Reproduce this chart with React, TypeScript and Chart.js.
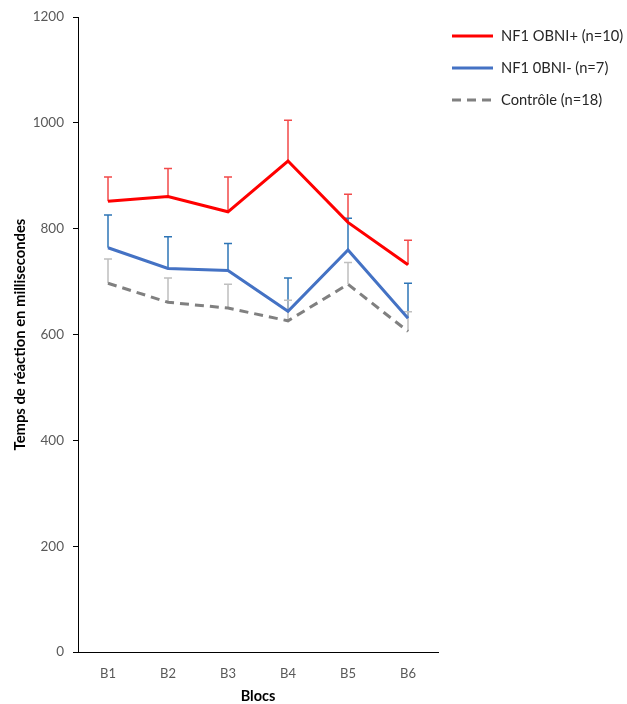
import React, { useEffect, useRef } from "react";
import { Chart, registerables } from "chart.js";

Chart.register(...registerables);

const categories = ["B1", "B2", "B3", "B4", "B5", "B6"];
const obniPlus = [852, 861, 832, 928, 812, 732];
const obniPlusErr = [46, 53, 66, 77, 53, 46];
const obniMinus = [764, 725, 721, 644, 760, 631];
const obniMinusErr = [62, 60, 51, 63, 60, 66];
const controle = [697, 661, 650, 626, 695, 606];
const controleErr = [46, 46, 45, 39, 41, 37];
const yTicks = [0, 200, 400, 600, 800, 1000, 1200];

const FONT = "Lato, 'Liberation Sans', Arial, sans-serif";

const errorBarPlugin = {
  id: "errorBars",
  beforeDatasetsDraw(chart: any) {
    const ctx = chart.ctx;
    const yScale = chart.scales.y;
    chart.data.datasets.forEach((ds: any, i: number) => {
      const meta = chart.getDatasetMeta(i);
      if (meta.hidden) return;
      ctx.save();
      ctx.strokeStyle = ds.errorColor;
      ctx.lineWidth = 1.5;
      ctx.setLineDash([]);
      meta.data.forEach((pt: any, j: number) => {
        const v = ds.data[j] + ds.errors[j];
        const yTop = yScale.getPixelForValue(v);
        ctx.beginPath();
        ctx.moveTo(pt.x, pt.y);
        ctx.lineTo(pt.x, yTop);
        ctx.moveTo(pt.x - 4, yTop);
        ctx.lineTo(pt.x + 4, yTop);
        ctx.stroke();
      });
      ctx.restore();
    });
  },
};

const legendPlugin = {
  id: "customLegend",
  afterDraw(chart: any) {
    const ctx = chart.ctx;
    const x0 = 452;
    const rows = [36, 68, 100];
    ctx.save();
    chart.data.datasets.forEach((ds: any, i: number) => {
      const y = rows[i];
      ctx.strokeStyle = ds.borderColor;
      ctx.lineWidth = 3;
      ctx.setLineDash(ds.borderDash || []);
      ctx.beginPath();
      ctx.moveTo(x0, y);
      ctx.lineTo(x0 + 41, y);
      ctx.stroke();
      ctx.setLineDash([]);
      ctx.fillStyle = "#262626";
      ctx.font = `14.7px ${FONT}`;
      ctx.textBaseline = "middle";
      ctx.textAlign = "left";
      ctx.fillText(ds.label, x0 + 49, y);
    });
    ctx.restore();
  },
};

export default function App() {
  const ref = useRef<HTMLCanvasElement | null>(null);
  useEffect(() => {
    document.body.style.margin = "0";
    if (!ref.current) return;
    const chart = new Chart(ref.current, {
      type: "line",
      data: {
        labels: categories,
        datasets: [
          {
            label: "NF1 OBNI+ (n=10)",
            data: obniPlus,
            errors: obniPlusErr,
            errorColor: "#f24a4a",
            borderColor: "#ff0000",
            backgroundColor: "#ff0000",
            borderWidth: 3,
            pointRadius: 0,
            tension: 0,
          } as any,
          {
            label: "NF1 0BNI- (n=7)",
            data: obniMinus,
            errors: obniMinusErr,
            errorColor: "#2e75b6",
            borderColor: "#4472c4",
            backgroundColor: "#4472c4",
            borderWidth: 3,
            pointRadius: 0,
            tension: 0,
          } as any,
          {
            label: "Contrôle (n=18)",
            data: controle,
            errors: controleErr,
            errorColor: "#bfbfbf",
            borderColor: "#808080",
            backgroundColor: "#808080",
            borderWidth: 3,
            borderDash: [9, 6],
            pointRadius: 0,
            tension: 0,
          } as any,
        ],
      },
      options: {
        animation: false,
        responsive: false,
        layout: { padding: { left: 0, top: 17, right: 189, bottom: 0 } },
        plugins: {
          legend: { display: false },
          tooltip: { enabled: false },
        },
        scales: {
          x: {
            offset: true,
            grid: { display: false, drawTicks: false },
            border: { display: true, color: "#000", width: 1 },
            ticks: {
              color: "#595959",
              font: { family: FONT, size: 13 },
              padding: 14,
            },
            title: {
              display: true,
              text: "Blocs",
              color: "#000",
              font: { family: FONT, size: 14.5, weight: "bold", lineHeight: 1 },
              padding: { top: 0, bottom: 0 },
            },
            afterFit(scale: any) {
              scale.height = 52;
            },
          },
          y: {
            min: 0,
            max: 1200,
            afterBuildTicks(scale: any) {
              scale.ticks = yTicks.map((v) => ({ value: v }));
            },
            grid: {
              drawOnChartArea: false,
              drawTicks: true,
              tickLength: 5,
              color: "#000",
            },
            border: { display: true, color: "#000", width: 1 },
            ticks: {
              color: "#595959",
              font: { family: FONT, size: 13.5 },
              padding: 9,
              callback: (v: any) => String(v),
            },
            title: {
              display: true,
              text: "Temps de réaction en millisecondes",
              color: "#000",
              font: { family: FONT, size: 14.8, weight: "bold", lineHeight: 1.2 },
              padding: { top: 11, bottom: 0 },
            },
            afterFit(scale: any) {
              scale.width = 78;
            },
          },
        },
      } as any,
      plugins: [errorBarPlugin, legendPlugin],
    });
    return () => chart.destroy();
  }, []);
  return (
    <div style={{ width: 627, height: 704 }}>
      <canvas ref={ref} width={627} height={704} />
    </div>
  );
}
